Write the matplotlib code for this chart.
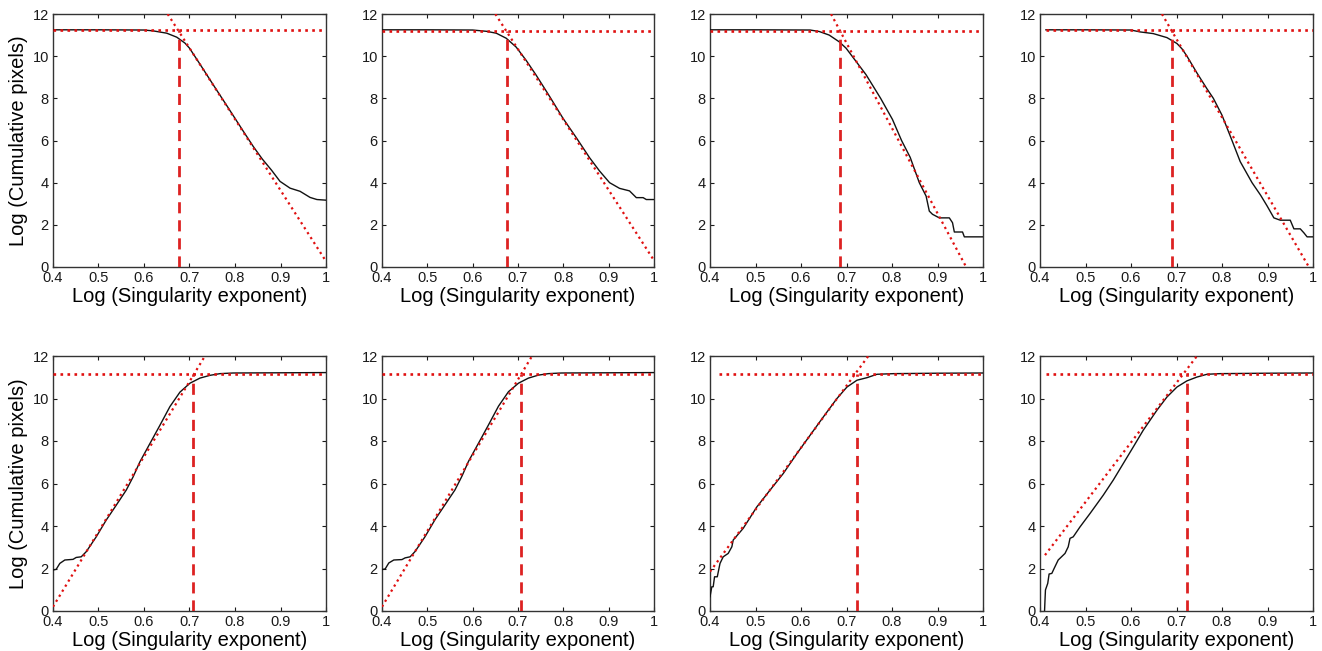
import matplotlib
matplotlib.use("Agg")
import matplotlib.pyplot as plt

plt.rcParams['font.family'] = ['Liberation Sans', 'DejaVu Sans']

# ---------------- data ----------------
# top row: decreasing cumulative curves
t1_x = [0.40, 0.50, 0.60, 0.62, 0.65, 0.672, 0.69, 0.70, 0.72, 0.74, 0.76, 0.78, 0.80, 0.82, 0.84, 0.86, 0.88, 0.899, 0.921, 0.943, 0.965, 0.98, 1.00]
t1_y = [11.25, 11.25, 11.24, 11.2, 11.09, 10.9, 10.62, 10.38, 9.72, 9.05, 8.38, 7.72, 7.05, 6.38, 5.72, 5.12, 4.6, 4.06, 3.74, 3.59, 3.3, 3.2, 3.17]

t2_x = [0.40, 0.50, 0.60, 0.63, 0.652, 0.674, 0.696, 0.718, 0.74, 0.77, 0.799, 0.829, 0.858, 0.88, 0.902, 0.924, 0.946, 0.961, 0.976, 0.983, 1.00]
t2_y = [11.25, 11.25, 11.24, 11.18, 11.09, 10.85, 10.43, 9.8, 9.1, 8.08, 7.06, 6.12, 5.18, 4.55, 4.0, 3.73, 3.61, 3.29, 3.29, 3.2, 3.2]

t3_x = [0.40, 0.50, 0.62, 0.64, 0.662, 0.684, 0.699, 0.721, 0.743, 0.775, 0.801, 0.821, 0.84, 0.86, 0.875, 0.882, 0.889, 0.904, 0.926, 0.933, 0.937, 0.955, 0.959, 1.00]
t3_y = [11.25, 11.25, 11.24, 11.17, 11.0, 10.68, 10.38, 9.75, 9.12, 8.0, 7.0, 6.0, 5.2, 4.0, 3.36, 2.65, 2.5, 2.33, 2.33, 2.1, 1.66, 1.66, 1.43, 1.43]

t4_x = [0.413, 0.50, 0.60, 0.62, 0.649, 0.679, 0.701, 0.712, 0.723, 0.745, 0.767, 0.781, 0.80, 0.822, 0.84, 0.866, 0.885, 0.899, 0.914, 0.928, 0.95, 0.958, 0.972, 0.98, 0.987, 1.00]
t4_y = [11.25, 11.25, 11.24, 11.15, 11.07, 10.88, 10.6, 10.35, 10.0, 9.2, 8.45, 8.0, 7.2, 6.0, 5.0, 4.0, 3.4, 2.9, 2.33, 2.22, 2.22, 1.81, 1.81, 1.62, 1.43, 1.43]

# bottom row: increasing cumulative curves
b1_x = [0.40, 0.407, 0.415, 0.426, 0.444, 0.451, 0.462, 0.473, 0.495, 0.517, 0.539, 0.561, 0.576, 0.591, 0.613, 0.635, 0.657, 0.679, 0.701, 0.723, 0.745, 0.767, 0.796, 0.90, 1.00]
b1_y = [1.93, 1.96, 2.24, 2.4, 2.43, 2.52, 2.55, 2.79, 3.49, 4.28, 4.98, 5.69, 6.31, 7.02, 7.88, 8.74, 9.62, 10.3, 10.72, 10.96, 11.09, 11.17, 11.2, 11.21, 11.22]

b2_x = [0.40, 0.407, 0.415, 0.426, 0.444, 0.451, 0.462, 0.473, 0.495, 0.517, 0.539, 0.561, 0.576, 0.591, 0.613, 0.635, 0.657, 0.679, 0.701, 0.723, 0.745, 0.767, 0.796, 0.90, 1.00]
b2_y = [1.95, 1.98, 2.26, 2.4, 2.42, 2.5, 2.55, 2.8, 3.5, 4.3, 5.0, 5.7, 6.33, 7.05, 7.9, 8.76, 9.64, 10.32, 10.72, 10.96, 11.1, 11.17, 11.2, 11.21, 11.22]

b3_x = [0.40, 0.404, 0.407, 0.41, 0.416, 0.422, 0.429, 0.44, 0.448, 0.451, 0.473, 0.503, 0.532, 0.561, 0.591, 0.62, 0.649, 0.679, 0.701, 0.723, 0.745, 0.767, 0.804, 0.90, 1.00]
b3_y = [0.67, 1.14, 1.14, 1.61, 1.61, 2.24, 2.55, 2.71, 3.02, 3.34, 3.89, 4.9, 5.69, 6.47, 7.41, 8.27, 9.13, 10.0, 10.54, 10.86, 10.98, 11.14, 11.17, 11.19, 11.2]

b4_x = [0.41, 0.411, 0.412, 0.417, 0.42, 0.426, 0.431, 0.44, 0.455, 0.462, 0.466, 0.473, 0.488, 0.51, 0.539, 0.561, 0.583, 0.605, 0.627, 0.657, 0.679, 0.701, 0.723, 0.745, 0.767, 0.796, 0.90, 1.00]
b4_y = [0.0, 0.52, 0.99, 1.3, 1.74, 1.77, 2.0, 2.4, 2.71, 3.02, 3.42, 3.49, 3.96, 4.59, 5.45, 6.16, 6.94, 7.72, 8.51, 9.45, 10.07, 10.54, 10.83, 11.01, 11.14, 11.17, 11.19, 11.2]

curves_x = [t1_x, t2_x, t3_x, t4_x, b1_x, b2_x, b3_x, b4_x]
curves_y = [t1_y, t2_y, t3_y, t4_y, b1_y, b2_y, b3_y, b4_y]

# fitted straight line (two end points per panel)
fit_x = [[0.652, 1.0], [0.650, 1.0], [0.666, 0.963], [0.668, 0.991],
         [0.400, 0.734], [0.400, 0.731], [0.400, 0.748], [0.411, 0.745]]
fit_y = [[12.0, 0.27], [12.0, 0.31], [12.0, 0.0], [12.0, 0.0],
         [0.2, 12.0], [0.2, 12.0], [1.85, 12.0], [2.63, 12.0]]

# plateau (horizontal dotted) level and start, and break point (vertical dashed)
plateau_level = [11.22, 11.2, 11.21, 11.23, 11.17, 11.17, 11.17, 11.17]
plateau_start = [0.40, 0.40, 0.40, 0.413, 0.40, 0.40, 0.42, 0.413]
break_x = [0.678, 0.676, 0.685, 0.691, 0.708, 0.707, 0.724, 0.722]

x_ticks = [0.4, 0.5, 0.6, 0.7, 0.8, 0.9, 1.0]
x_ticklabels = ['0.4', '0.5', '0.6', '0.7', '0.8', '0.9', '1']
y_ticks = [0, 2, 4, 6, 8, 10, 12]
xlabel = 'Log (Singularity exponent)'
ylabel = 'Log (Cumulative pixels)'

# ---------------- layout ----------------
W, H = 1322, 651
fig = plt.figure(figsize=(W / 100, H / 100), dpi=100)

lefts = [53, 382, 710, 1040]
rights = [326, 654, 983, 1313]
rows = [(14, 267), (356, 611)]

red = '#e01010'
dash_red = '#dd2222'
ink = '#1a1a1a'

for i in range(8):
    r, c = divmod(i, 4)
    top, bot = rows[r]
    ax = fig.add_axes([lefts[c] / W, 1 - bot / H, (rights[c] - lefts[c]) / W, (bot - top) / H])
    ax.plot(curves_x[i], curves_y[i], color='#111111', lw=1.0, zorder=3)
    ax.plot([plateau_start[i], 1.0], [plateau_level[i], plateau_level[i]], ':', color=red, lw=1.9, zorder=4)
    ax.plot(fit_x[i], fit_y[i], ':', color=red, lw=1.6, zorder=4)
    ax.plot([break_x[i], break_x[i]], [0, plateau_level[i]], '--', color=dash_red, lw=2.0,
            dashes=(4, 2.5), zorder=5)
    ax.set_xlim(0.4, 1.0)
    ax.set_ylim(0, 12)
    ax.set_xticks(x_ticks)
    ax.set_xticklabels(x_ticklabels)
    ax.set_yticks(y_ticks)
    ax.tick_params(direction='in', top=True, right=True, length=3, width=0.8,
                   labelsize=10.5, colors=ink)
    ax.tick_params(axis='x', pad=3)
    ax.tick_params(axis='y', pad=3)
    for s in ax.spines.values():
        s.set_color('#333333')
        s.set_linewidth(1.0)
    ax.set_xlabel(xlabel, fontsize=14.5, color='black', labelpad=1.5)
    if c == 0:
        ax.set_ylabel(ylabel, fontsize=14.5, color='black', labelpad=3)

fig.savefig('out.png', dpi=100)
